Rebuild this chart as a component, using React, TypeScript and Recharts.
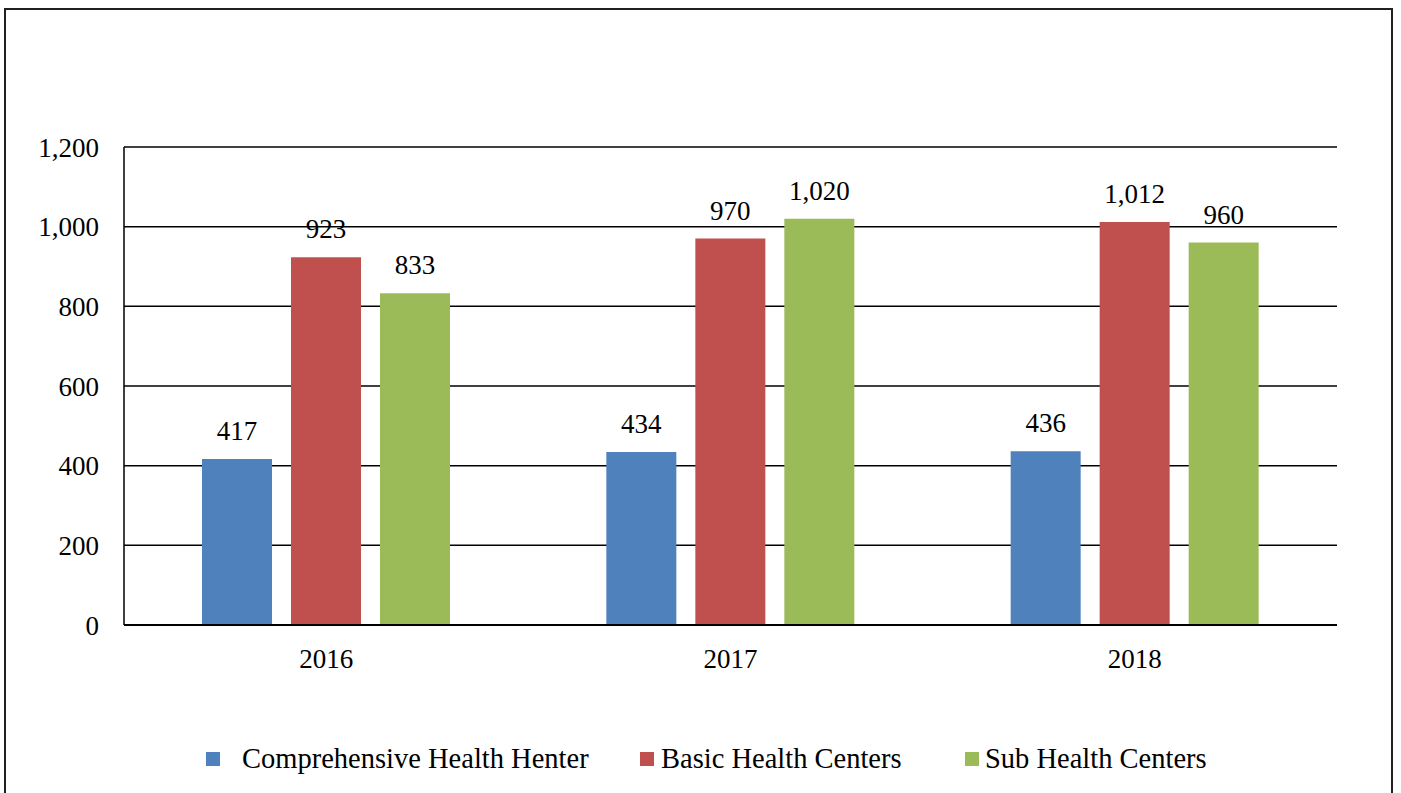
import { Bar, BarChart, CartesianGrid, LabelList, Legend, XAxis, YAxis } from "recharts";

const years = ["2016", "2017", "2018"];
const comprehensive = [417, 434, 436];
const basic = [923, 970, 1012];
const sub = [833, 1020, 960];
const yTicks = [0, 200, 400, 600, 800, 1000, 1200];

const data = years.map((year, i) => ({
  year,
  comprehensive: comprehensive[i],
  basic: basic[i],
  sub: sub[i],
}));

const font = "Liberation Serif, Times New Roman, serif";
const fmt = (v: number) => v.toLocaleString("en-US");

const legendItems = [
  { label: "Comprehensive Health Henter", color: "#4F81BD", box: 206, text: 242 },
  { label: "Basic Health Centers", color: "#C0504D", box: 640, text: 661 },
  { label: "Sub Health Centers", color: "#9BBB59", box: 965, text: 985 },
];

function LegendRow() {
  return (
    <div style={{ position: "relative", width: 1401, height: 40, fontFamily: font, fontSize: 28.5, color: "#000" }}>
      {legendItems.map((it) => (
        <div key={it.label}>
          <span style={{ position: "absolute", left: it.box, top: 12, width: 14, height: 14, background: it.color }} />
          <span style={{ position: "absolute", left: it.text, top: 0, lineHeight: "38px", whiteSpace: "nowrap" }}>{it.label}</span>
        </div>
      ))}
    </div>
  );
}

export default function App() {
  return (
    <div style={{ position: "absolute", left: 0, top: 0, width: 1401, height: 793, overflow: "hidden", background: "#fff" }}>
      <div
        style={{
          position: "absolute", left: 4, top: 8, width: 1389, height: 800,
          border: "2px solid #231F20", boxSizing: "border-box",
        }}
      />
      <BarChart
        width={1401}
        height={793}
        data={data}
        margin={{ top: 147, right: 64, left: 0, bottom: 90 }}
        barGap={19}
        style={{ position: "absolute", left: 0, top: 0 }}
      >
        <CartesianGrid vertical={false} stroke="#000" strokeWidth={1.5} />
        <XAxis
          dataKey="year"
          tickLine={false}
          tickSize={0}
          tickMargin={24}
          axisLine={{ stroke: "#000", strokeWidth: 2 }}
          tick={{ fill: "#000", fontSize: 27, fontFamily: font }}
        />
        <YAxis
          width={124}
          domain={[0, 1200]}
          ticks={yTicks}
          tickFormatter={fmt}
          tickLine={false}
          tickSize={0}
          tickMargin={25}
          axisLine={{ stroke: "#000", strokeWidth: 1.5 }}
          tick={{ fill: "#000", fontSize: 27, fontFamily: font }}
        />
        <Legend
          verticalAlign="bottom"
          height={48}
          wrapperStyle={{ top: 740, bottom: "auto", left: 0, width: 1401 }}
          content={() => <LegendRow />}
        />
        <Bar dataKey="comprehensive" fill="#4F81BD" barSize={70} isAnimationActive={false}>
          <LabelList dataKey="comprehensive" position="top" offset={19} formatter={fmt} fill="#000" fontSize={27} fontFamily={font} />
        </Bar>
        <Bar dataKey="basic" fill="#C0504D" barSize={70} isAnimationActive={false}>
          <LabelList dataKey="basic" position="top" offset={19} formatter={fmt} fill="#000" fontSize={27} fontFamily={font} />
        </Bar>
        <Bar dataKey="sub" fill="#9BBB59" barSize={70} isAnimationActive={false}>
          <LabelList dataKey="sub" position="top" offset={19} formatter={fmt} fill="#000" fontSize={27} fontFamily={font} />
        </Bar>
      </BarChart>
    </div>
  );
}
